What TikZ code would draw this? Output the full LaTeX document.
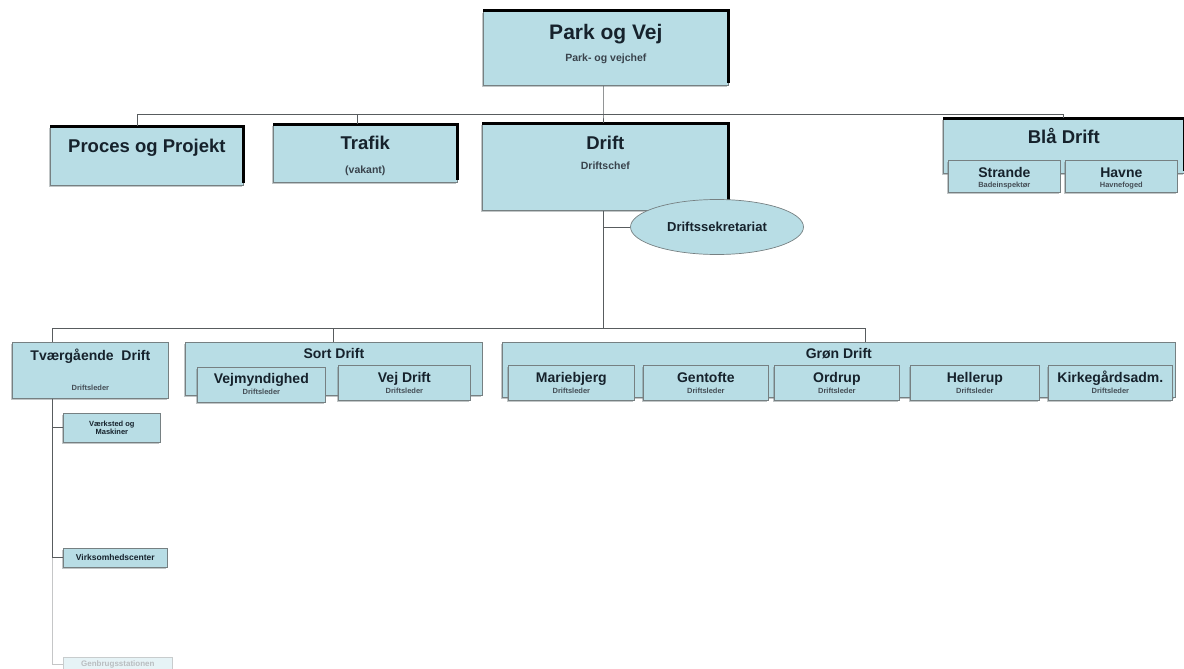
\documentclass[tikz,border=0pt]{standalone}
\usepackage{fontspec}
\setmainfont{Liberation Sans}
\usetikzlibrary{shapes.geometric, positioning, shadows}
\definecolor{pvFill}{RGB}{184,221,229}
\definecolor{pvText}{RGB}{22,34,44}
\definecolor{pvEdge}{RGB}{118,128,130}
\definecolor{pvLine}{RGB}{88,92,94}

\tikzset{
  orgbox/.style={rectangle, draw=pvEdge, line width=0.7pt, fill=pvFill, anchor=north west, inner sep=0pt,
    drop shadow={shadow xshift=-1.5pt, shadow yshift=-1.5pt, fill=pvEdge, opacity=0.45}},
  rim/.style={line width=3pt, black},
  conn/.style={draw=pvLine, line width=0.9pt},
  connfaint/.style={draw=pvLine!35, line width=0.9pt},
  headA/.style={font=\fontsize{21}{24}\selectfont\bfseries, text=pvText, inner sep=0pt, anchor=base},
  headB/.style={font=\fontsize{18.5}{21}\selectfont\bfseries, text=pvText, inner sep=0pt, anchor=base},
  headC/.style={font=\fontsize{14}{16}\selectfont\bfseries, text=pvText, inner sep=0pt, anchor=base},
  subA/.style={font=\fontsize{10.5}{12}\selectfont\bfseries, text=pvText!85, inner sep=0pt, anchor=base},
  subB/.style={font=\fontsize{7.5}{8}\selectfont\bfseries, text=pvText!80, inner sep=0pt, anchor=base},
}

\begin{document}
\begin{tikzpicture}[x=1pt, y=-1pt]
  \useasboundingbox (0,0) rectangle (1184,669);

  % top level
  \node[orgbox, minimum width=245pt, minimum height=74pt] (pov) at (483,11) {};
  \draw[rim] (pov.north west) -- (pov.north east) -- ([yshift=3pt]pov.south east);
  \node[headA] (povT) at ([yshift=-28.5pt]pov.north) {Park og Vej};
  \node[subA] (povS) at ([yshift=-51pt]pov.north) {Park- og vejchef};

  % second level
  \node[orgbox, minimum width=193pt, minimum height=59pt] (proces) at (50,126) {};
  \draw[rim] (proces.north west) -- (proces.north east) -- ([yshift=3pt]proces.south east);
  \node[headB] (procesT) at ([yshift=-26.5pt]proces.north) {Proces og Projekt};

  \node[orgbox, minimum width=184pt, minimum height=58pt] (trafik) at (273,124) {};
  \draw[rim] (trafik.north west) -- (trafik.north east) -- ([yshift=3pt]trafik.south east);
  \node[headB] (trafikT) at ([yshift=-25.5pt]trafik.north) {Trafik};
  \node[subA] (trafikS) at ([yshift=-49pt]trafik.north) {(vakant)};

  \node[orgbox, minimum width=246pt, minimum height=87pt] (drift) at (482,123) {};
  \draw[rim] (drift.north west) -- (drift.north east) -- ([yshift=3pt]drift.south east);
  \node[headB] (driftT) at ([yshift=-26.5pt]drift.north) {Drift};
  \node[subA] (driftS) at ([yshift=-46pt]drift.north) {Driftschef};

  \node[ellipse, draw=pvEdge, line width=0.7pt, fill=pvFill, minimum width=173pt, minimum height=55pt, inner sep=0pt,
    font=\fontsize{13}{15}\selectfont\bfseries, text=pvText] (sekr) at (717,227) {Driftssekretariat};

  \node[orgbox, minimum width=241pt, minimum height=55pt] (blaa) at (943,118) {};
  \draw[rim] (blaa.north west) -- (blaa.north east) -- ([yshift=3pt]blaa.south east);
  \node[headB] (blaaT) at ([yshift=-25.5pt]blaa.north) {Blå Drift};
  \node[orgbox, minimum width=112pt, minimum height=32pt] (strande) at (948,160) {};
  \node[headC] (strandeT) at ([yshift=-17pt]strande.north) {Strande};
  \node[subB] (strandeS) at ([yshift=-27pt]strande.north) {Badeinspektør};
  \node[orgbox, minimum width=112pt, minimum height=32pt] (havne) at (1065,160) {};
  \node[headC] (havneT) at ([yshift=-17pt]havne.north) {Havne};
  \node[subB] (havneS) at ([yshift=-27pt]havne.north) {Havnefoged};

  % third level
  \node[orgbox, minimum width=156pt, minimum height=56pt] (tvaer) at (12,342) {};
  \node[headC] (tvaerT) at ([yshift=-18pt]tvaer.north) {Tværgående\ \ Drift};
  \node[subB] (tvaerS) at ([yshift=-48.5pt]tvaer.north) {Driftsleder};

  \node[orgbox, minimum width=297pt, minimum height=53pt] (sort) at (185,342) {};
  \node[headC] (sortT) at ([yshift=-16pt]sort.north) {Sort Drift};
  \node[orgbox, minimum width=128pt, minimum height=35pt] (vejmyn) at (197,367) {};
  \node[headC] (vejmynT) at ([yshift=-16pt]vejmyn.north) {Vejmyndighed};
  \node[subB] (vejmynS) at ([yshift=-27.5pt]vejmyn.north) {Driftsleder};
  \node[orgbox, minimum width=132pt, minimum height=35pt] (vejdrift) at (338,365) {};
  \node[headC] (vejdriftT) at ([yshift=-17pt]vejdrift.north) {Vej Drift};
  \node[subB] (vejdriftS) at ([yshift=-28.5pt]vejdrift.north) {Driftsleder};

  \node[orgbox, minimum width=673pt, minimum height=55pt] (groen) at (502,342) {};
  \node[headC] (groenT) at ([yshift=-16pt]groen.north) {Grøn Drift};
  \foreach \nm/\xx/\ww/\txt in {marie/508/126/Mariebjerg, gentofte/643/125/Gentofte, ordrup/774/125/Ordrup,
                               hellerup/910/129/Hellerup, kirke/1048/124/Kirkegårdsadm.}{
    \node[orgbox, minimum width=\ww pt, minimum height=35pt] (\nm) at (\xx,365) {};
    \node[headC] (\nm T) at ([yshift=-17pt]\nm.north) {\txt};
    \node[subB] (\nm S) at ([yshift=-28.5pt]\nm.north) {Driftsleder};
  }

  % staff under Tværgående Drift
  \node[orgbox, minimum width=97pt, minimum height=29pt, align=center, text=pvText,
    font=\fontsize{7.5}{8.5}\selectfont\bfseries] (vaerk) at (63,413) {Værksted og\\Maskiner};
  \node[orgbox, minimum width=104pt, minimum height=19pt, text=pvText,
    font=\fontsize{8.5}{9.5}\selectfont\bfseries] (virk) at (63,548) {Virksomhedscenter};
  \node[rectangle, anchor=north west, inner sep=0pt, draw=pvEdge!40, line width=0.7pt, fill=pvFill!35,
    minimum width=109pt, minimum height=14pt, text=pvText!30,
    font=\fontsize{8}{9}\selectfont\bfseries] (genbrug) at (63,657) {Genbrugsstationen};

  % connectors
  \coordinate (bus1W) at (137,114);
  \coordinate (bus1E) at (1063,114);
  \coordinate (trafikUp) at (357,114);
  \coordinate (trunk) at (603,328);
  \coordinate (bus2W) at (52,328);
  \coordinate (bus2E) at (865,328);

  \draw[conn] (bus1W) -- (bus1E);
  \draw[conn] (pov.south -| trunk) -- (bus1W -| trunk) -- (drift.north -| trunk);
  \draw[conn] (bus1W) -- (bus1W |- proces.north);
  \draw[conn] (trafikUp) -- (trafikUp |- trafik.north);
  \draw[conn] (bus1E) -- (bus1E |- blaa.north);

  \draw[conn] (drift.south -| trunk) -- (trunk);
  \draw[conn] (sekr.west -| trunk) -- (sekr.west);

  \draw[conn] (bus2W) -- (bus2E);
  \draw[conn] (bus2W) -- (bus2W |- tvaer.north);
  \draw[conn] (sort.north |- bus2W) -- (sort.north);
  \draw[conn] (bus2E) -- (bus2E |- groen.north);

  \draw[conn] (bus2W |- tvaer.south) |- (vaerk.west);
  \draw[conn] (bus2W |- tvaer.south) |- (virk.west);
  \draw[connfaint] (bus2W |- virk.west) |- (genbrug.west);
\end{tikzpicture}
\end{document}
